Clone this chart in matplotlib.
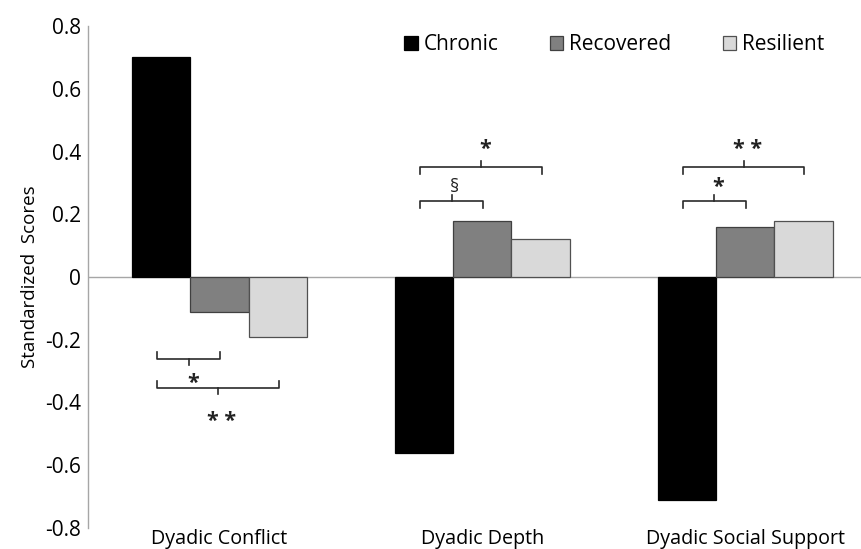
import matplotlib
matplotlib.use("Agg")
import matplotlib.pyplot as plt
from matplotlib.patches import Patch
import numpy as np

plt.rcParams['font.family'] = ['Open Sans', 'DejaVu Sans']

categories = ["Dyadic Conflict", "Dyadic Depth", "Dyadic Social Support"]
series_names = ["Chronic", "Recovered", "Resilient"]
chronic = [0.70, -0.56, -0.71]
recovered = [-0.11, 0.18, 0.16]
resilient = [-0.19, 0.12, 0.18]
yticks = [-0.8, -0.6, -0.4, -0.2, 0, 0.2, 0.4, 0.6, 0.8]
ytick_labels = ["-0.8", "-0.6", "-0.4", "-0.2", "0", "0.2", "0.4", "0.6", "0.8"]

# significance brackets: (category, bar_a, bar_b, y_level, label, label_y)
brackets = [
    (0, 0, 1, -0.261, "*", -0.322),
    (0, 0, 2, -0.354, "**", -0.446),
    (1, 0, 1, 0.242, "§", 0.287),
    (1, 0, 2, 0.351, "*", 0.421),
    (2, 0, 1, 0.242, "*", 0.300),
    (2, 0, 2, 0.351, "**", 0.421),
]

colors = ["#000000", "#808080", "#d9d9d9"]
edges = ["#000000", "#404040", "#505050"]

fig = plt.figure(figsize=(8.61, 5.49), dpi=100)
ax = fig.add_axes([88/861, 1-528/549, (876.5-88)/861, 502/549])

x = np.arange(len(categories))
w = 0.222
data = [chronic, recovered, resilient]
for j, vals in enumerate(data):
    ax.bar(x + (j-1)*w, vals, width=w, color=colors[j], edgecolor=edges[j],
           linewidth=0.9, label=series_names[j], zorder=2)

ax.axhline(0, color="#a6a6a6", linewidth=1.0, zorder=1)
ax.set_xlim(-0.5, 2.5)
ax.set_ylim(-0.8, 0.8)
ax.set_yticks(yticks)
ax.set_yticklabels(ytick_labels)
ax.set_xticks(x)
ax.set_xticklabels(categories)
ax.tick_params(axis='both', length=0, colors="#000000")
ax.tick_params(axis='y', pad=5, labelsize=15)
ax.tick_params(axis='x', pad=1, labelsize=14.2)
for s in ["top", "right", "bottom"]:
    ax.spines[s].set_visible(False)
ax.spines["left"].set_color("#a6a6a6")
ax.spines["left"].set_linewidth(1.0)
ax.set_ylabel("Standardized  Scores", fontsize=13.5, labelpad=4)

# brackets
px_y = 0.8/251
px_x = 1/263
for cat, a, b, yl, lab, ly in brackets:
    xa = cat + (a-1)*w - 4*px_x
    xb = cat + (b-1)*w + 1*px_x
    xc = (xa + xb)/2
    sgn = 1 if yl < 0 else -1  # conflict: ends go up; others: ends go down
    h = 7*px_y
    t = 6*px_y
    ax.plot([xa, xa, xb, xb], [yl + sgn*h, yl, yl, yl + sgn*h], color="#2a2a2a",
            linewidth=1.2, solid_joinstyle='round', clip_on=False, zorder=3)
    ax.plot([xc, xc], [yl, yl - sgn*t], color="#2a2a2a", linewidth=1.2,
            clip_on=False, zorder=3)
    if lab == "§":
        ax.text(xc + 3*px_x, ly, lab, ha='center', va='center', fontsize=13,
                color="#222222")
    else:
        ax.text(xc + 4*px_x, ly - 5*px_y, lab.replace("**", "* *"), ha='center',
                va='center', fontsize=15.5, fontweight='bold', color="#222222")

handles = [Patch(facecolor=colors[j], edgecolor=edges[j], linewidth=0.9,
                 label=series_names[j]) for j in range(3)]
leg = fig.legend(handles=handles, loc='center left',
                 bbox_to_anchor=(404/861, 1-45/549), ncol=3, frameon=False,
                 fontsize=15, handlelength=0.65, handleheight=0.65,
                 handletextpad=0.3, columnspacing=2.45, borderpad=0,
                 borderaxespad=0)

fig.savefig("out.png", dpi=100)
